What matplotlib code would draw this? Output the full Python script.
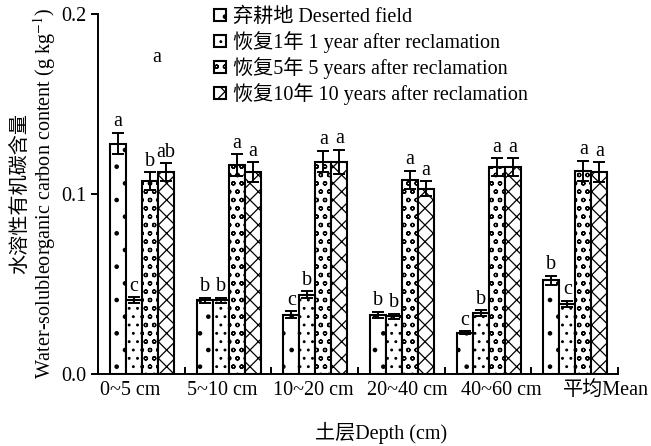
"""
Water-soluble organic carbon content by soil depth and reclamation age.
Output: out.png
"""
import matplotlib
matplotlib.use("Agg")
import matplotlib.pyplot as plt
import numpy as np

FS = 14.5

plt.rcParams.update({
    "font.family":      ["Liberation Serif", "Noto Sans CJK SC"],
    "font.size":        FS,
    "mathtext.fontset": "stix",
    "hatch.linewidth":  0.9,
    "axes.linewidth":   1.4,
})

depths = ["0~5 cm", "5~10 cm", "10~20 cm", "20~40 cm", "40~60 cm", "平均Mean"]
series_labels = [
    "弃耕地 Deserted field",
    "恢复1年 1 year after reclamation",
    "恢复5年 5 years after reclamation",
    "恢复10年 10 years after reclamation",
]

deserted = [0.128, 0.041, 0.033, 0.033, 0.023, 0.052]
year1    = [0.041, 0.041, 0.044, 0.032, 0.034, 0.039]
year5    = [0.107, 0.116, 0.118, 0.108, 0.115, 0.113]
year10   = [0.112, 0.112, 0.118, 0.103, 0.115, 0.112]

err_deserted = [0.006, 0.0015, 0.0018, 0.0017, 0.0008, 0.0025]
err_year1    = [0.0017, 0.0015, 0.0020, 0.0015, 0.0015, 0.0017]
err_year5    = [0.005, 0.006, 0.006, 0.005, 0.005, 0.0055]
err_year10   = [0.005, 0.0056, 0.0067, 0.004, 0.005, 0.0056]

letters_deserted = ["a", "b", "c", "b", "c", "b"]
letters_year1    = ["c", "b", "b", "b", "b", "c"]
letters_year5    = ["b", "a", "a", "a", "a", "a"]
letters_year10   = ["ab", "a", "a", "a", "a", "a"]

values  = [deserted, year1, year5, year10]
errors  = [err_deserted, err_year1, err_year5, err_year10]
letters = [letters_deserted, letters_year1, letters_year5, letters_year10]
hatches = [".", "..", "oo", "xx"]

# the original tick labels are not exactly centred under their groups
label_shift = [-0.14, -0.08, -0.03, 0.055, 0.14, 0.35]

fig = plt.figure(figsize=(6.51, 4.46), dpi=100)
ax = fig.add_axes([0.1505, 0.1614, 0.7985, 0.8072])

centers = np.arange(len(depths)) + 0.51
width = 0.185

for k in range(4):
    xs = centers + (k - 1.5) * width
    ax.bar(xs, values[k], width=width, color="white", edgecolor="black",
           linewidth=1.5, hatch=hatches[k], label=series_labels[k], zorder=2)
    ax.errorbar(xs, values[k], yerr=errors[k], fmt="none", ecolor="black",
                elinewidth=1.4, capsize=4.5, capthick=1.4, zorder=3)
    for x, v, e, t in zip(xs, values[k], errors[k], letters[k]):
        ax.text(x, v + e + 0.0008, t, ha="center", va="bottom", fontsize=FS)

# stray letter present in the original figure
ax.text(0.113, 0.88, "a", transform=ax.transAxes, ha="center", va="center",
        fontsize=FS)

ax.set_xlim(0, 6)
ax.set_ylim(0, 0.2)
ax.set_xticks(centers + np.array(label_shift))
ax.set_xticklabels(depths)
ax.set_xticks(np.arange(0, 7), minor=True)
ax.tick_params(axis="x", which="major", length=0, pad=5, labelsize=FS)
ax.tick_params(axis="x", which="minor", direction="in", length=5, width=1.4)
ax.set_yticks([0.0, 0.1, 0.2])
ax.set_yticklabels(["0.0", "0.1", "0.2"])
ax.tick_params(axis="y", direction="out", length=5, width=1.4, labelsize=FS)
ax.spines["top"].set_visible(False)
ax.spines["right"].set_visible(False)

fig.text(21 / 651, 1 - 194 / 446, "水溶性有机碳含量", rotation=90,
         ha="center", va="center", fontsize=FS)
fig.text(45 / 651, 1 - 194 / 446,
         "Water-solubleorganic carbon content (g kg$^{-1}$)", rotation=90,
         ha="center", va="center", fontsize=FS)
fig.text(381 / 651, 1 - 433 / 446, "土层Depth (cm)", ha="center",
         va="center", fontsize=FS)

ax.legend(loc="upper left", bbox_to_anchor=(0.207, 1.04), frameon=False,
          handlelength=0.6, handleheight=0.6, handletextpad=0.35,
          labelspacing=0.2, fontsize=FS, borderaxespad=0)

fig.savefig("out.png", dpi=100)
plt.close(fig)
